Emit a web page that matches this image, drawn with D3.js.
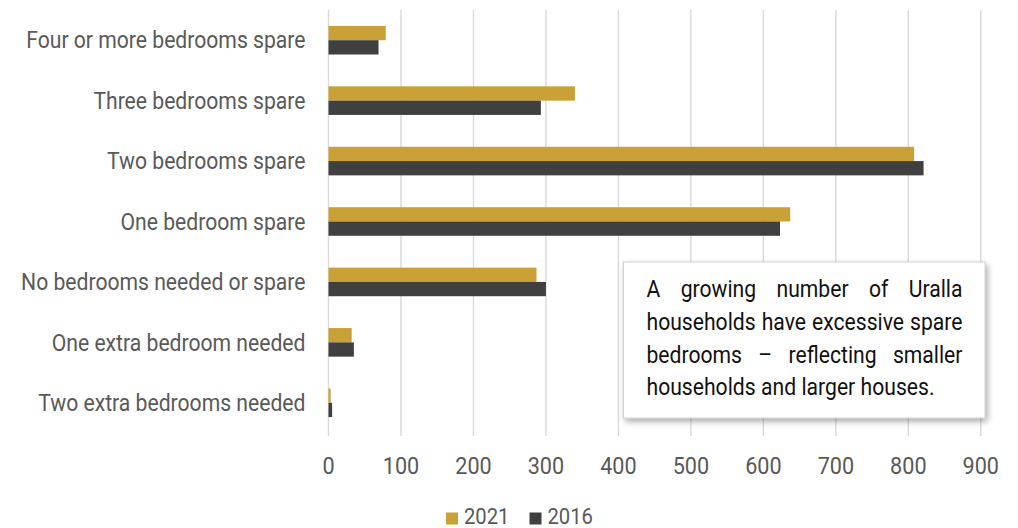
<!DOCTYPE html>
<html><head><meta charset="utf-8">
<script src="https://cdn.jsdelivr.net/npm/d3@7"></script>
<style>
html,body{margin:0;padding:0;background:#fff;}
svg{display:block;font-family:Roboto,"Noto Sans",sans-serif;}
</style></head>
<body>
<svg id="chart" width="1018" height="528"></svg>
<script>
const categories = ["Four or more bedrooms spare","Three bedrooms spare","Two bedrooms spare","One bedroom spare","No bedrooms needed or spare","One extra bedroom needed","Two extra bedrooms needed"];
const seriesNames = ["2021","2016"];
const values2021 = [79,340,808,637,287,32,3];
const values2016 = [69,293,821,623,300,35,5];
const xTicks = [0,100,200,300,400,500,600,700,800,900];
const noteLines = [["A","growing","number","of","Uralla"],["households","have","excessive","spare"],["bedrooms","\u2013","reflecting","smaller"],["households","and","larger","houses."]];

const colors = {"2021":"#C9A136","2016":"#404040"};
const K = 0.9; // horizontal condense factor (Roboto -> condensed look)
const svg = d3.select("#chart");

const defs = svg.append("defs");
const f = defs.append("filter").attr("id","shadow").attr("x","-10%").attr("y","-10%").attr("width","130%").attr("height","130%");
f.append("feDropShadow").attr("dx",2).attr("dy",3).attr("stdDeviation",3).attr("flood-color","#000").attr("flood-opacity",0.35);

const x = d3.scaleLinear().domain([0,900]).range([328.5,980.8]);
const y = d3.scaleBand().domain(categories).range([10,433]).paddingInner(0.527).paddingOuter(0.2635);
const ySub = d3.scaleBand().domain(seriesNames).range([0,y.bandwidth()]);

// gridlines
svg.append("g").selectAll("line").data(xTicks).join("line")
  .attr("x1",d=>x(d)).attr("x2",d=>x(d)).attr("y1",10).attr("y2",436)
  .attr("stroke","#d9d9d9").attr("stroke-width",1.4);

// bars
const data = categories.map((c,i)=>({cat:c, vals:[{s:"2021",v:values2021[i]},{s:"2016",v:values2016[i]}]}));
const groups = svg.append("g").selectAll("g").data(data).join("g")
  .attr("transform",d=>`translate(0,${y(d.cat)})`);
groups.selectAll("rect").data(d=>d.vals).join("rect")
  .attr("x",x(0)).attr("y",d=>ySub(d.s))
  .attr("width",d=>x(d.v)-x(0)).attr("height",ySub.bandwidth())
  .attr("fill",d=>colors[d.s]);

// category labels
svg.append("g").selectAll("text").data(categories).join("text")
  .attr("transform",d=>`translate(305.5,${y(d)+y.bandwidth()/2}) scale(${K},1)`)
  .attr("text-anchor","end").attr("dy","0.35em")
  .attr("font-size",23.5).attr("fill","#595959").text(d=>d);

// x tick labels
svg.append("g").selectAll("text").data(xTicks).join("text")
  .attr("transform",d=>`translate(${x(d)},474) scale(${K},1)`)
  .attr("text-anchor","middle").attr("font-size",24).attr("fill","#595959").text(d=>d);

// note box
const box = {x0:623.5,y0:262,x1:985,y1:418};
svg.append("rect").attr("x",box.x0).attr("y",box.y0).attr("width",box.x1-box.x0).attr("height",box.y1-box.y0)
  .attr("fill","#fff").attr("stroke","#c8c8c8").attr("stroke-width",0.8).attr("filter","url(#shadow)");
const textLeft = 646.5, textRight = 962.5, KN = 0.92, lineW = (textRight-textLeft)/KN;
const baselines = [297,329.8,362.6,395.4];
noteLines.forEach((words,li)=>{
  const g = svg.append("g").attr("transform",`translate(${textLeft},${baselines[li]}) scale(${KN},1)`);
  const ts = words.map(w=>g.append("text").attr("font-size",23).attr("fill","#111").text(w));
  const widths = ts.map(t=>t.node().getComputedTextLength());
  const total = d3.sum(widths);
  const last = li===noteLines.length-1;
  const spaceW = 5.8;
  const gap = last ? spaceW : (lineW-total)/(words.length-1);
  let cx = 0;
  ts.forEach((t,i)=>{ t.attr("x",cx); cx += widths[i]+gap; });
});

// legend
const legend = svg.append("g");
const legX = [446,529.5];
seriesNames.forEach((s,i)=>{
  legend.append("rect").attr("x",legX[i]).attr("y",512.5).attr("width",12).attr("height",12).attr("fill",colors[s]);
  legend.append("text").attr("transform",`translate(${legX[i]+18},523.5) scale(0.92,1)`)
    .attr("font-size",22).attr("fill","#595959").text(s);
});
</script>
</body></html>
